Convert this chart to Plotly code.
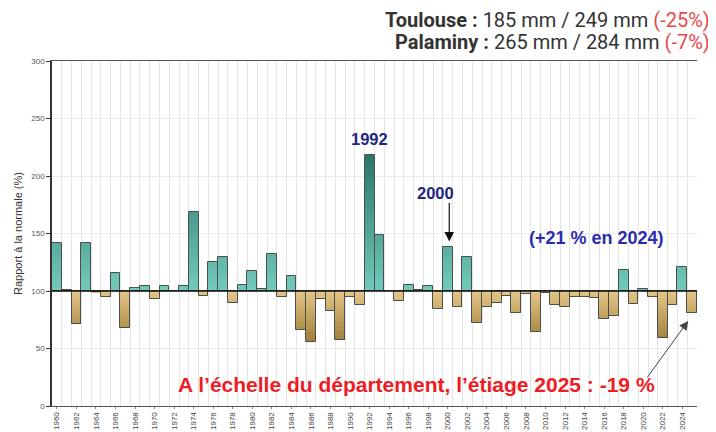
import plotly.graph_objects as go

years = list(range(1960, 2026))
ratio = [142, 101, 71, 142, 99, 95, 116, 67.5, 103, 104,
         93, 104, 100, 104.5, 169, 96, 125, 130, 90, 105,
         117, 102, 132, 95, 113, 66.5, 55.5, 93, 83, 57,
         95, 88, 218, 149, 100, 91.5, 105, 100.8, 104, 84,
         138, 86, 130, 72.5, 86, 90, 96, 80.5, 97, 64.5,
         98, 88, 86, 95, 95, 93.5, 75.5, 78, 118, 88.5,
         102, 95, 59, 88, 121, 81]
tick_years = list(range(1960, 2025, 2))
tick_labels = [str(y) for y in tick_years]

BASE = 100


def mix(c1, c2, t):
    t = max(0.0, min(1.0, t))
    return "#%02x%02x%02x" % tuple(round(a + (b - a) * t) for a, b in zip(c1, c2))


pos_light, pos_dark = (0x74, 0xcc, 0xbc), (0x2b, 0x76, 0x68)
neg_light, neg_dark = (0xe6, 0xca, 0x8c), (0xa0, 0x7c, 0x38)

fig = go.Figure()
# vertical gradient: bands by distance from the 100 % baseline, darkest first
step = 3
levels = list(range(120, 0, -step))
for d in levels:
    ys, cols = [], []
    for v in ratio:
        dv = v - BASE
        m = min(abs(dv), d)
        ys.append(m if dv >= 0 else -m)
        cols.append(mix(pos_light, pos_dark, d / 120) if dv >= 0 else mix(neg_light, neg_dark, d / 46))
    fig.add_trace(go.Bar(
        x=years, y=ys, base=BASE,
        marker=dict(color=cols, line=dict(width=0)),
        width=1, hoverinfo="skip", showlegend=False))
fig.add_trace(go.Bar(
    x=years, y=[v - BASE for v in ratio], base=BASE,
    marker=dict(color="rgba(0,0,0,0)", line=dict(color="#4a4f4d", width=1)),
    width=1, showlegend=False,
    hovertemplate="%{x}: %{customdata}%<extra></extra>", customdata=ratio))

fig.add_shape(type="line", xref="paper", x0=0, x1=1, y0=BASE, y1=BASE,
              line=dict(color="#111111", width=1.5))

navy = "#1f2780"
fig.add_annotation(x=1992, y=222.5, text="<b>1992</b>", showarrow=False,
                   font=dict(size=16.5, color=navy, family="Liberation Sans"), yanchor="bottom")
fig.add_annotation(x=1998.7, y=185, text="<b>2000</b>", showarrow=False,
                   font=dict(size=16.5, color=navy, family="Liberation Sans"))
fig.add_annotation(x=2000.15, y=143, ax=0, ay=-40, text="", showarrow=True,
                   arrowhead=2, arrowsize=1.6, arrowwidth=1.2, arrowcolor="#111111")
fig.add_annotation(x=2015.2, y=146, text="<b>(+21 % en 2024)</b>", showarrow=False,
                   font=dict(size=18, color="#2b2bb0", family="Liberation Sans"))
fig.add_annotation(x=1996.75, y=19.1, text="<b>A l’échelle du département, l’étiage 2025 : -19 %</b>",
                   showarrow=False, font=dict(size=21, color="#ee1c24", family="Liberation Sans"))
fig.add_annotation(x=2024.6, y=74, ax=-42, ay=58, text="", showarrow=True,
                   arrowhead=2, arrowsize=1.8, arrowwidth=1, arrowcolor="#444444")

fig.add_annotation(xref="paper", yref="paper", x=1.0233, y=1.118, xanchor="right", yanchor="middle",
                   text="<b>Toulouse :</b> 185 mm / 249 mm <span style='color:#e8474b'>(-25%)</span>",
                   showarrow=False, font=dict(size=20, color="#333333", family="Roboto"))
fig.add_annotation(xref="paper", yref="paper", x=1.0233, y=1.055, xanchor="right", yanchor="middle",
                   text="<b>Palaminy :</b> 265 mm / 284 mm <span style='color:#e8474b'>(-7%)</span>",
                   showarrow=False, font=dict(size=20, color="#333333", family="Roboto"))

# the page places the figure 8 px from the top-left corner; margins compensate
fig.update_layout(
    width=716, height=432,
    margin=dict(l=44, r=27, t=53, b=34, autoexpand=False),
    paper_bgcolor="white", plot_bgcolor="white",
    barmode="overlay", bargap=0,
    font=dict(family="Liberation Sans", color="#333333"),
    xaxis=dict(range=[1959.5, 2025.5], tickvals=tick_years, ticktext=tick_labels,
               tickangle=-90, tickfont=dict(size=8, color="#444444"), automargin=False,
               showgrid=False, showline=True, linecolor="#555555", linewidth=1, mirror=True,
               ticks="outside", ticklen=2, tickcolor="#888888",
               minor=dict(tick0=1959.5, dtick=1, showgrid=True, gridcolor="#e4e4e4", gridwidth=1),
               zeroline=False, fixedrange=True),
    yaxis=dict(range=[0, 300], dtick=50, tickfont=dict(size=8, color="#555555"), automargin=False,
               showgrid=True, gridcolor="#ececec", showline=True, linecolor="#333333", linewidth=1.5,
               ticks="outside", ticklen=4, tickcolor="#333333", zeroline=False,
               title=dict(text="Rapport à la normale (%)", font=dict(size=11, color="#333333"), standoff=6),
               fixedrange=True),
)

fig.write_html("out.html")
